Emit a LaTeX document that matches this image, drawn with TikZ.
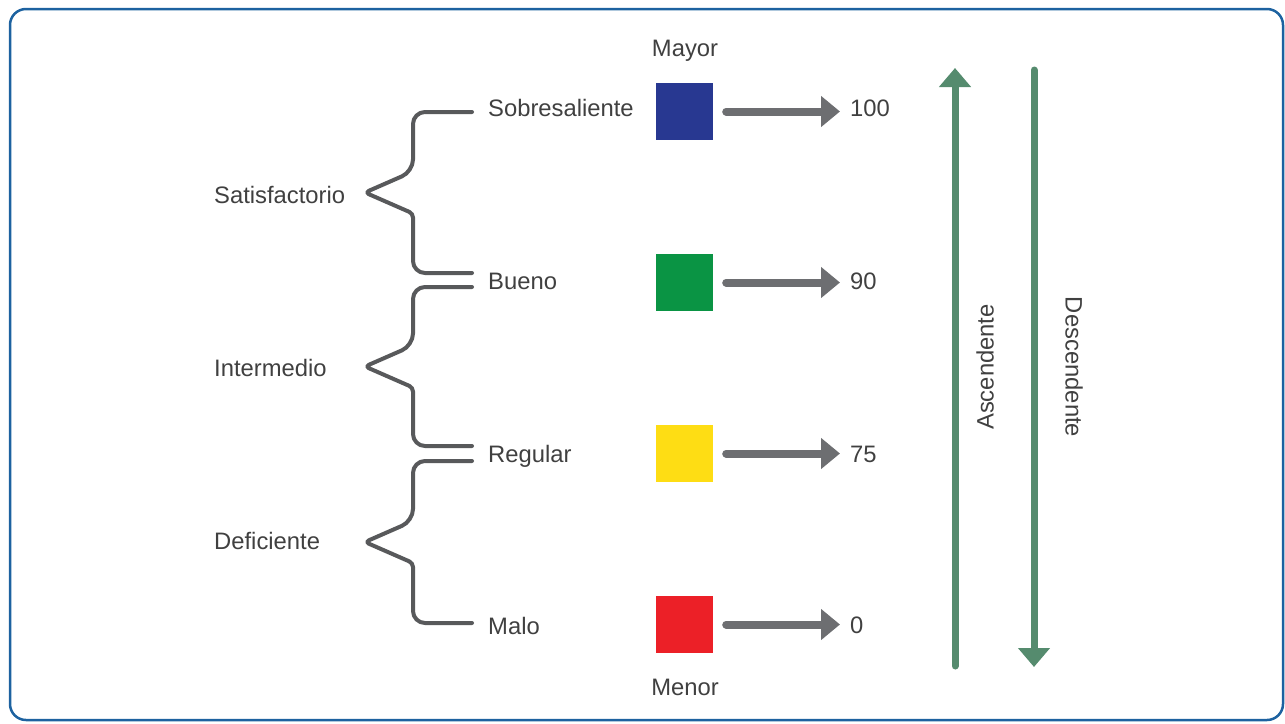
\documentclass[tikz,border=0pt]{standalone}
\usepackage{fontspec}
\setmainfont{Liberation Sans}
\usetikzlibrary{arrows.meta}
\definecolor{framec}{HTML}{1D62A0}
\definecolor{txt}{HTML}{404040}
\definecolor{brk}{HTML}{58595B}
\definecolor{garr}{HTML}{6D6E71}
\definecolor{grn}{HTML}{558B6E}
\definecolor{sqblue}{HTML}{283891}
\definecolor{sqgreen}{HTML}{0A9444}
\definecolor{sqyellow}{HTML}{FEDD14}
\definecolor{sqred}{HTML}{EC2027}
\tikzset{
  lbl/.style={anchor=base west,inner sep=0pt,text=txt,font=\fontsize{23.8}{28}\selectfont},
  clbl/.style={anchor=base,inner sep=0pt,text=txt,font=\fontsize{23.8}{28}\selectfont},
  sq/.style={draw=none,minimum size=57pt,inner sep=0pt},
  brace/.style={draw=brk,line width=4pt,line cap=round,line join=round},
  grayarrow/.style={draw=garr,line width=8pt,line cap=round,-{Triangle[length=19pt,width=30pt]}},
  greenarrow/.style={draw=grn,line width=7pt,line cap=round,-{Triangle[length=19pt,width=31pt]}}
}
\begin{document}
\begin{tikzpicture}[x=1pt,y=-1pt]
\useasboundingbox (0,0) rectangle (1285,723);
\draw[framec,line width=2.5pt,rounded corners=16pt] (10,9) rectangle (1283,720);

% left group labels
\node[lbl] (sat) at (214,203) {Satisfactorio};
\node[lbl] (int) at (214,376) {Intermedio};
\node[lbl] (def) at (214,549) {Deficiente};

% level labels
\node[lbl] (sob) at (488,116.5) {Sobresaliente};
\node[lbl] (bue) at (488,289.5) {Bueno};
\node[lbl] (reg) at (488,462.5) {Regular};
\node[lbl] (mal) at (488,634.5) {Malo};

\node[clbl] (mayor) at (685,56.5) {Mayor};
\node[clbl] (menor) at (685,695.5) {Menor};

% braces
\foreach \t/\b in {112/273, 287/446, 461/623}{
  \pgfmathsetmacro{\m}{(\t+\b)/2}
  \draw[brace,rounded corners=12pt] (472,\t) -- (413,\t) -- (413,\m-21)
     [rounded corners=4pt] -- (365,\m) -- (413,\m+21)
     [rounded corners=12pt] -- (413,\b) -- (472,\b);
}

% squares
\node[sq,fill=sqblue]   (s1) at (684.5,111.5) {};
\node[sq,fill=sqgreen]  (s2) at (684.5,282.5) {};
\node[sq,fill=sqyellow] (s3) at (684.5,453.5) {};
\node[sq,fill=sqred]    (s4) at (684.5,624.5) {};

% values
\node[lbl] (v1) at (850,116.5) {100};
\node[lbl] (v2) at (850,289.5) {90};
\node[lbl] (v3) at (850,462.5) {75};
\node[lbl] (v4) at (850,633.5) {0};

\foreach \i in {1,2,3,4}{
  \draw[grayarrow,shorten <=13pt,shorten >=10pt] (s\i.east) -- (s\i.east -| v\i.west);
}

% vertical arrows
\coordinate (a1) at (955,666);
\coordinate (a2) at (955,68);
\coordinate (d1) at (1034,70);
\coordinate (d2) at (1034,667);
\draw[greenarrow] (a1) -- (a2);
\draw[greenarrow] (d1) -- (d2);
\node[text=txt,font=\fontsize{23.8}{28}\selectfont,rotate=90,inner sep=0pt] (asc) at (985,367) {Ascendente};
\node[text=txt,font=\fontsize{23.8}{28}\selectfont,rotate=-90,inner sep=0pt] (desc) at (1074,367) {Descendente};
\end{tikzpicture}
\end{document}
